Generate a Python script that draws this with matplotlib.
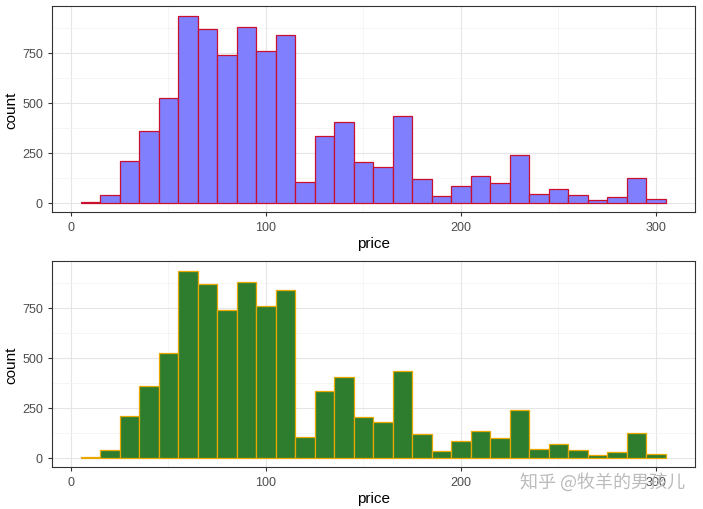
import matplotlib.pyplot as plt
plt.rcParams['font.family'] = ['Liberation Sans', 'Noto Sans CJK SC', 'DejaVu Sans']

centers = [10,20,30,40,50,60,70,80,90,100,110,120,130,140,150,160,170,180,190,200,210,220,230,240,250,260,270,280,290,300]
counts = [5,40,210,360,525,935,870,740,880,760,840,105,335,405,205,180,435,120,35,85,135,100,240,45,70,40,15,30,125,20]
xticks = [0,100,200,300]
yticks = [0,250,500,750]

fig = plt.figure(figsize=(7.03,5.1), dpi=100)
W, H = 703, 510
def ax_at(l, t, r, b):
    return fig.add_axes([l/W, 1-b/H, (r-l)/W, (b-t)/H])

axes = [ax_at(52,7,695,213), ax_at(52,262,695,468)]
styles = [dict(color='#8080FF', edgecolor='#C8102E'), dict(color='#2E7D2E', edgecolor='#E8A800')]
for ax, st in zip(axes, styles):
    ax.bar(centers, counts, width=10, linewidth=0.9, zorder=3, **st)
    ax.set_xlim(-9.7, 320)
    ax.set_ylim(-47, 985)
    ax.set_xticks(xticks); ax.set_yticks(yticks)
    ax.set_xticks([50,150,250], minor=True); ax.set_yticks([125,375,625,875], minor=True)
    ax.grid(True, which='major', color='#E5E5E5', lw=0.8, zorder=0)
    ax.grid(True, which='minor', color='#F2F2F2', lw=0.5, zorder=0)
    ax.tick_params(which='minor', length=0)
    ax.tick_params(which='major', length=3, color='#333333', labelsize=9, labelcolor='#4D4D4D')
    for s in ax.spines.values():
        s.set_color('#333333'); s.set_linewidth(0.8)
    ax.set_xlabel('price', fontsize=11, labelpad=2)
    ax.set_ylabel('count', fontsize=11, labelpad=3)
fig.text(0.975, 0.055, '知乎 @牧羊的男孩儿', ha='right', va='center', fontsize=13, color='#BBBBBB',
         family=['Noto Sans CJK SC', 'DejaVu Sans'])
fig.savefig('out.png', dpi=100)
